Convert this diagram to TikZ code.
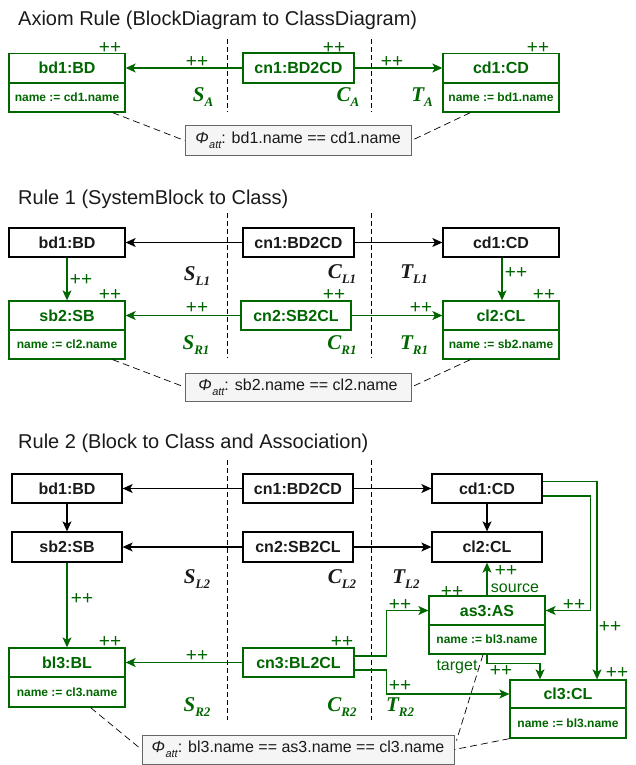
\documentclass[tikz,border=0pt]{standalone}
\usepackage{fontspec}
\setmainfont{Liberation Sans}
\newfontfamily\lblserif{Liberation Serif}
\usetikzlibrary{arrows.meta}
\definecolor{dgreen}{RGB}{0,102,0}
\definecolor{phifill}{RGB}{245,245,245}
\definecolor{phiedge}{RGB}{102,102,102}
\definecolor{ink}{RGB}{26,26,26}
% side label such as S_A, C_{L1}, T_{R2}
\newcommand\rlab[2]{{\lblserif\bfseries\itshape\fontsize{21}{21}\selectfont #1\raisebox{-0.25em}{\fontsize{13}{13}\selectfont #2}}}
% attribute condition symbol
\newcommand\phiatt{{\itshape Φ\kern0.5pt\raisebox{-0.3em}{\fontsize{11}{11}\selectfont att}}}

\begin{document}
\begin{tikzpicture}[x=1pt,y=-1pt,
  cls/.style={rectangle, draw, line width=1.3pt, fill=white, inner sep=0pt, minimum height=29pt},
  nmbox/.style={cls, font=\bfseries\fontsize{16}{16}\selectfont},
  attrbox/.style={cls, font=\bfseries\fontsize{12}{12}\selectfont},
  gr/.style={draw=dgreen, text=dgreen},
  bk/.style={draw=black, text=ink},
  pp/.style={text=dgreen, inner sep=0pt, font=\fontsize{19}{19}\selectfont},
  lab/.style={inner sep=0pt},
  ttl/.style={anchor=base west, inner sep=0pt, text=ink, font=\fontsize{20}{20}\selectfont},
  phibox/.style={draw=phiedge, fill=phifill, line width=1pt, inner sep=0pt, minimum height=29pt, text=ink, font=\fontsize{16}{16}\selectfont},
  sepline/.style={draw=black, line width=0.8pt, dash pattern=on 5pt off 3pt},
  link/.style={draw=black, line width=0.7pt, dash pattern=on 7pt off 4pt},
  arrtip/.style={-{Stealth[length=10pt,width=9pt,inset=2.5pt]}},
  garr/.style={arrtip, draw=dgreen, line width=1.2pt},
  karr/.style={arrtip, draw=black, line width=1.1pt},
  roletxt/.style={text=dgreen, inner sep=0pt, font=\fontsize{16}{16}\selectfont},
]
\useasboundingbox (0,0) rectangle (635,765);

% ================= Axiom rule =================
\node[ttl] (a-title) at (18,26) {Axiom Rule (BlockDiagram to ClassDiagram)};

\coordinate (a-s1t) at (227,39); \coordinate (a-s1b) at (227,112);
\coordinate (a-s2t) at (371,39); \coordinate (a-s2b) at (371,112);
\draw[sepline] (a-s1t) -- (a-s1b);
\draw[sepline] (a-s2t) -- (a-s2b);

\node[nmbox,gr,minimum width=116pt] (a-bd1) at (67,68) {bd1:BD};
\node[attrbox,gr,minimum width=116pt] (a-bd1x) at (67,97.5) {name := cd1.name};
\node[nmbox,gr,minimum width=111pt,minimum height=30pt] (a-cn1) at (298.5,68) {cn1:BD2CD};
\node[nmbox,gr,minimum width=116pt] (a-cd1) at (501,68) {cd1:CD};
\node[attrbox,gr,minimum width=116pt] (a-cd1x) at (501,97.5) {name := bd1.name};

\draw[garr] (a-cn1) -- (a-bd1);
\draw[garr] (a-cn1) -- (a-cd1);

\node[pp] (a-p1) at (110,48) {++};
\node[pp] (a-p2) at (334,48) {++};
\node[pp] (a-p3) at (538,48) {++};
\node[pp] (a-p4) at (197,62) {++};
\node[pp] (a-p5) at (392,62) {++};

\node[lab,text=dgreen] (a-S) at (203,97) {\rlab{S}{A}};
\node[lab,text=dgreen] (a-C) at (348,97) {\rlab{C}{A}};
\node[lab,text=dgreen] (a-T) at (422,97) {\rlab{T}{A}};

\node[phibox,minimum width=226pt] (a-phi) at (298,140.5) {\phiatt: bd1.name == cd1.name};
\draw[link] ([xshift=-13pt]a-bd1x.south east) -- (a-phi.west);
\draw[link] ([xshift=28pt]a-cd1x.south west) -- (a-phi.east);

% ================= Rule 1 =================
\node[ttl] (r1-title) at (18,204) {Rule 1 (SystemBlock to Class)};

\coordinate (r1-s1t) at (227,213); \coordinate (r1-s1b) at (227,358);
\coordinate (r1-s2t) at (371,213); \coordinate (r1-s2b) at (371,358);
\draw[sepline] (r1-s1t) -- (r1-s1b);
\draw[sepline] (r1-s2t) -- (r1-s2b);

\node[nmbox,bk,minimum width=116pt] (r1-bd1) at (67,242.5) {bd1:BD};
\node[nmbox,bk,minimum width=111pt] (r1-cn1) at (298.5,242.5) {cn1:BD2CD};
\node[nmbox,bk,minimum width=116pt] (r1-cd1) at (501,242.5) {cd1:CD};

\node[nmbox,gr,minimum width=116pt] (r1-sb2) at (67,315.5) {sb2:SB};
\node[attrbox,gr,minimum width=116pt] (r1-sb2x) at (67,344.5) {name := cl2.name};
\node[nmbox,gr,minimum width=110pt] (r1-cn2) at (296,315.5) {cn2:SB2CL};
\node[nmbox,gr,minimum width=116pt] (r1-cl2) at (501,315.5) {cl2:CL};
\node[attrbox,gr,minimum width=116pt] (r1-cl2x) at (501,344.5) {name := sb2.name};

\draw[karr] (r1-cn1) -- (r1-bd1);
\draw[karr] (r1-cn1) -- (r1-cd1);
\draw[garr] (r1-bd1) -- (r1-sb2);
\draw[garr] ([xshift=1pt]r1-cd1.south) -- ([xshift=1pt]r1-cl2.north);
\draw[garr] (r1-cn2) -- (r1-sb2);
\draw[garr] (r1-cn2) -- (r1-cl2);

\node[pp] (r1-p1) at (81,280) {++};
\node[pp] (r1-p2) at (516,273) {++};
\node[pp] (r1-p3) at (110,295) {++};
\node[pp] (r1-p4) at (334,295) {++};
\node[pp] (r1-p5) at (544,295) {++};
\node[pp] (r1-p6) at (197,308) {++};
\node[pp] (r1-p7) at (421,308) {++};

\node[lab,text=ink] (r1-SL) at (197,276) {\rlab{S}{L1}};
\node[lab,text=ink] (r1-CL) at (342,274) {\rlab{C}{L1}};
\node[lab,text=ink] (r1-TL) at (414,274) {\rlab{T}{L1}};
\node[lab,text=dgreen] (r1-SR) at (196,345) {\rlab{S}{R1}};
\node[lab,text=dgreen] (r1-CR) at (342,345) {\rlab{C}{R1}};
\node[lab,text=dgreen] (r1-TR) at (414,345) {\rlab{T}{R1}};

\node[phibox,minimum width=226pt,minimum height=28pt] (r1-phi) at (298,387) {\phiatt: sb2.name == cl2.name};
\draw[link] ([xshift=-13pt]r1-sb2x.south east) -- (r1-phi.west);
\draw[link] ([xshift=28pt]r1-cl2x.south west) -- (r1-phi.east);

% ================= Rule 2 =================
\node[ttl] (r2-title) at (18,448) {Rule 2 (Block to Class and Association)};

\coordinate (r2-s1t) at (227,460); \coordinate (r2-s1b) at (227,720);
\coordinate (r2-s2t) at (371,460); \coordinate (r2-s2b) at (371,720);
\draw[sepline] (r2-s1t) -- (r2-s1b);
\draw[sepline] (r2-s2t) -- (r2-s2b);

\node[nmbox,bk,minimum width=110pt] (r2-bd1) at (67,488.5) {bd1:BD};
\node[nmbox,bk,minimum width=110pt,minimum height=30pt] (r2-sb2) at (67,547) {sb2:SB};
\node[nmbox,bk,minimum width=110pt] (r2-cn1) at (298,488.5) {cn1:BD2CD};
\node[nmbox,bk,minimum width=110pt,minimum height=30pt] (r2-cn2) at (298,547) {cn2:SB2CL};
\node[nmbox,bk,minimum width=110pt] (r2-cd1) at (487,488.5) {cd1:CD};
\node[nmbox,bk,minimum width=110pt,minimum height=30pt] (r2-cl2) at (487,547) {cl2:CL};

\node[nmbox,gr,minimum width=116pt] (r2-bl3) at (67,662.5) {bl3:BL};
\node[attrbox,gr,minimum width=116pt,minimum height=30pt] (r2-bl3x) at (67,692) {name := cl3.name};
\node[nmbox,gr,minimum width=111pt] (r2-cn3) at (298.5,662.5) {cn3:BL2CL};
\node[nmbox,gr,minimum width=116pt] (r2-as3) at (487,610.5) {as3:AS};
\node[attrbox,gr,minimum width=116pt] (r2-as3x) at (487,639.5) {name := bl3.name};
\node[nmbox,gr,minimum width=116pt,minimum height=28pt] (r2-cl3) at (568,694) {cl3:CL};
\node[attrbox,gr,minimum width=116pt,minimum height=30pt] (r2-cl3x) at (568,723) {name := bl3.name};

\draw[karr] (r2-cn1) -- (r2-bd1);
\draw[karr] (r2-cn1) -- (r2-cd1);
\draw[karr] (r2-cn2) -- (r2-sb2);
\draw[karr] (r2-cn2) -- (r2-cl2);
\draw[karr] (r2-bd1) -- (r2-sb2);
\draw[karr] (r2-cd1) -- (r2-cl2);

\draw[garr] (r2-sb2) -- (r2-bl3);
\draw[garr] (r2-cn3) -- (r2-bl3);
\draw[garr] ([yshift=6.5pt]r2-cn3.east) -- ++(32,0) |- (r2-as3.west);
\draw[garr] ([yshift=-7.5pt]r2-cn3.east) -- ++(32,0) |- (r2-cl3.west);
\draw[garr] (r2-as3.north) -- (r2-cl2.south);
\draw[garr] ([yshift=-7.5pt]r2-cd1.east) -- ++(48,0) |- (r2-as3.east);
\draw[garr] ([yshift=6.8pt]r2-cd1.east) -| ([xshift=29pt]r2-cl3.north);
\draw[garr] (r2-as3x.south) -- ++(0,9) -| ([xshift=-28pt]r2-cl3.north);

\node[pp] (r2-p1) at (82,599) {++};
\node[pp] (r2-p2) at (110,642) {++};
\node[pp] (r2-p3) at (197,656) {++};
\node[pp] (r2-p4) at (342,642) {++};
\node[pp] (r2-p5) at (400,605) {++};
\node[pp] (r2-p6) at (400,686) {++};
\node[pp] (r2-p7) at (506,571) {++};
\node[pp] (r2-p8) at (452,592) {++};
\node[pp] (r2-p9) at (574,605) {++};
\node[pp] (r2-p10) at (610,627) {++};
\node[pp] (r2-p11) at (617,673) {++};
\node[pp] (r2-p12) at (501,671) {++};

\node[roletxt] (r2-src) at (515,588) {source};
\node[roletxt] (r2-tgt) at (457,667) {target};

\node[lab,text=ink] (r2-SL) at (197,579) {\rlab{S}{L2}};
\node[lab,text=ink] (r2-CL) at (342,579) {\rlab{C}{L2}};
\node[lab,text=ink] (r2-TL) at (406,579) {\rlab{T}{L2}};
\node[lab,text=dgreen] (r2-SR) at (197,707) {\rlab{S}{R2}};
\node[lab,text=dgreen] (r2-CR) at (342,707) {\rlab{C}{R2}};
\node[lab,text=dgreen] (r2-TR) at (400,707) {\rlab{T}{R2}};

\node[phibox,minimum width=312pt] (r2-phi) at (298,749.5) {\phiatt: bl3.name == as3.name == cl3.name};
\draw[link] ([xshift=-35pt]r2-bl3x.south east) -- (r2-phi.west);
\draw[link] ([xshift=-4pt]r2-as3x.south) -- ([xshift=2pt,yshift=9pt]r2-phi.east);
\draw[link] (r2-cl3x.south west) -- (r2-phi.east);
\end{tikzpicture}
\end{document}
